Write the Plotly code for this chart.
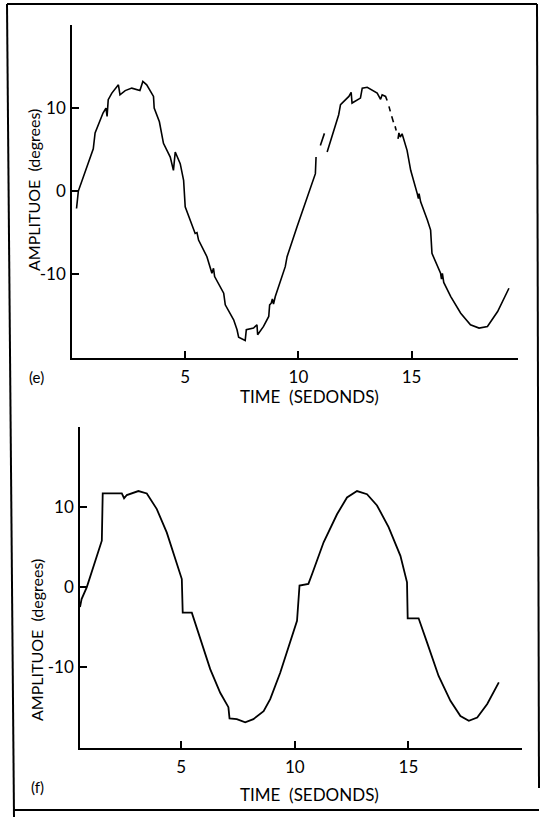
import plotly.graph_objects as go

# Panel (e) data (None = gap in the trace)
e_time = [0.2, 0.28, 0.94, 1.02, 1.37, 1.5, 1.55, 1.6, 1.76, 2.05, 2.12, 2.35, 2.64, 3.0, 3.13, 3.3,
          3.6, 3.63, 3.86, 4.04, 4.34, 4.48, 4.56, 4.78, 4.93, 5.0, 5.44, 5.52, 5.59, 5.96, 6.18,
          6.25, 6.3, 6.7, 6.77, 7.14, 7.29, 7.36, 7.65, 7.7, 8.02, 8.17, 8.2, 8.46, 8.69, 8.73,
          8.8, 8.85, 8.9, 8.98, 9.42, 9.5, 9.94, 10.38, 10.75, 10.78, None,
          10.97, 11.15, None,
          11.27, 11.78, 11.86, 12.23, 12.33, 12.37, 12.74, 12.82, 13.04, 13.48, 13.63, 13.7, 13.85,
          13.92, None, 14.0, 14.06, None, 14.12, 14.2, None, 14.27, 14.32, None,
          14.4, 14.44, 14.5, 14.58, 14.8, 14.96, 15.25, 15.3, 15.33, 15.4, 15.7, 15.84, 15.9,
          16.28, 16.32, 16.36, 16.42, 16.73, 17.17, 17.6, 17.98, 18.35, 18.8, 19.3]
e_amp = [-2.1, 0, 5.1, 7, 9.4, 10, 9.0, 11, 11.8, 12.8, 11.6, 12.1, 12.4, 12.1, 13.2, 12.8,
         11.4, 10, 8.35, 5.75, 4.1, 2.5, 4.7, 3.3, 1.3, -1.9, -5.1, -5.0, -5.9, -7.9, -9.9,
         -9.3, -10.3, -12.3, -13.7, -15.5, -16.7, -17.6, -18, -16.7, -16.5, -16.1, -17.3, -16.3, -15.1, -13.7,
         -13.5, -13.0, -13.6, -12.7, -9.1, -7.9, -4.3, -0.7, 2.1, 4.1, None,
         5.5, 6.95, None,
         4.7, 9.2, 10.4, 11.4, 11.9, 10.6, 11.2, 12.4, 12.5, 11.8, 11.05, 11.6, 11.4,
         10.9, None, 10.2, 9.6, None, 9.0, 8.3, None, 7.8, 7.3, None,
         6.3, 7.0, 6.5, 6.9, 4.9, 2.5, -0.3, -0.9, -0.3, -1.3, -3.5, -4.7, -7.5,
         -9.9, -10.6, -9.9, -11.0, -12.7, -14.7, -16.1, -16.5, -16.3, -14.5, -11.7]

# Panel (f) data
f_time = [0.55, 0.62, 0.85, 1.51, 1.55, 2.39, 2.49, 2.61, 3.12, 3.49, 3.93, 4.37, 5.03, 5.07, 5.47,
          5.84, 6.28, 6.72, 7.08, 7.13, 7.45, 7.82, 8.18, 8.63, 8.92, 9.36, 9.8, 10.1, 10.21, 10.6,
          10.76, 11.27, 11.86, 12.3, 12.74, 13.18, 13.62, 14.13, 14.65, 14.94, 14.97, 15.45, 15.82,
          16.33, 16.85, 17.29, 17.66, 18.03, 18.47, 18.98]
f_amp = [-2.5, -1.5, 0, 5.8, 11.7, 11.7, 11.1, 11.5, 12.0, 11.7, 9.75, 6.8, 1, -3.2, -3.2,
         -6.5, -10.25, -13.2, -15, -16.4, -16.5, -16.9, -16.5, -15.5, -14, -10.7, -6.9, -4.2, 0.2, 0.4,
         1.6, 5.6, 9.1, 11.2, 12.0, 11.6, 10.2, 7.5, 3.9, 0.6, -3.9, -3.9, -6.9,
         -11.1, -14.2, -16.1, -16.7, -16.3, -14.6, -11.9]

x_ticks = [5, 10, 15]
x_tick_text = ["5", "10", "15"]
y_ticks = [10, 0, -10]
y_tick_text = ["10", "0", "-10"]
f_y_ticks = [20, 10, 0, -10]
f_y_tick_text = ["", "10", "0", "-10"]

x_title = "TIME  (SEDONDS)"
y_title = "AMPLITUOE  (degrees)"
panel_labels = ["(e)", "(f)"]

W, H = 541, 817
FONT = "Lato"

fig = go.Figure()
fig.add_trace(go.Scatter(x=e_time, y=e_amp, mode="lines", line=dict(color="black", width=1.6),
                         connectgaps=False, xaxis="x", yaxis="y", showlegend=False, hoverinfo="skip"))
fig.add_trace(go.Scatter(x=f_time, y=f_amp, mode="lines", line=dict(color="black", width=1.8),
                         xaxis="x2", yaxis="y2", showlegend=False, hoverinfo="skip"))

def px_x(p):
    return p / W

def px_y(p):
    return 1 - p / H

common_axis = dict(showline=True, linecolor="black", linewidth=1.5, ticks="inside", tickcolor="black",
                   ticklen=7, tickwidth=1.5, showgrid=False, zeroline=False,
                   tickfont=dict(family=FONT, size=17, color="black"), mirror=False)

fig.update_layout(
    width=W, height=H, margin=dict(l=0, r=0, t=0, b=0),
    paper_bgcolor="white", plot_bgcolor="white",
    xaxis=dict(domain=[px_x(72), px_x(518)], range=[0, 19.7], anchor="y",
               tickvals=x_ticks, ticktext=x_tick_text, ticklabelstandoff=3, **common_axis),
    yaxis=dict(domain=[px_y(358), px_y(25)], range=[-20.1, 20], anchor="x",
               tickvals=y_ticks, ticktext=y_tick_text, ticklabelstandoff=1, **common_axis),
    xaxis2=dict(domain=[px_x(80), px_x(522)], range=[0.55, 20.0], anchor="y2",
                tickvals=x_ticks, ticktext=x_tick_text, ticklabelstandoff=3, **common_axis),
    yaxis2=dict(domain=[px_y(748), px_y(427)], range=[-20.1, 20], anchor="x2",
                tickvals=f_y_ticks, ticktext=f_y_tick_text, ticklabelstandoff=1, **common_axis),
)

annots = []
for cy, cx in [(190, 34), (640, 36)]:
    annots.append(dict(text=y_title, x=px_x(cx), y=px_y(cy), xref="paper", yref="paper",
                       textangle=-90, showarrow=False, xanchor="center", yanchor="middle",
                       font=dict(family=FONT, size=16, color="black")))
for (lbl, lx, ly) in [(panel_labels[0], 36, 377), (panel_labels[1], 37, 787)]:
    annots.append(dict(text=lbl, x=px_x(lx), y=px_y(ly), xref="paper", yref="paper",
                       showarrow=False, xanchor="center", yanchor="middle",
                       font=dict(family=FONT, size=15, color="black")))
for ty in [396, 794]:
    annots.append(dict(text=x_title, x=px_x(309), y=px_y(ty), xref="paper", yref="paper",
                       showarrow=False, xanchor="center", yanchor="middle",
                       font=dict(family=FONT, size=17, color="black")))
fig.update_layout(annotations=annots)

# Outer frame of the scanned figure
frame = dict(type="line", xref="paper", yref="paper", line=dict(color="black", width=2))
fig.update_layout(shapes=[
    dict(frame, x0=px_x(7), y0=px_y(4), x1=px_x(537), y1=px_y(4)),
    dict(frame, x0=px_x(7), y0=px_y(4), x1=px_x(14), y1=px_y(817)),
    dict(frame, x0=px_x(537), y0=px_y(4), x1=px_x(539), y1=px_y(788)),
    dict(frame, x0=px_x(14), y0=px_y(810), x1=px_x(539), y1=px_y(810)),
])

fig.write_html("out.html", config={"displayModeBar": False},
               post_script="document.body.style.margin='0';")
